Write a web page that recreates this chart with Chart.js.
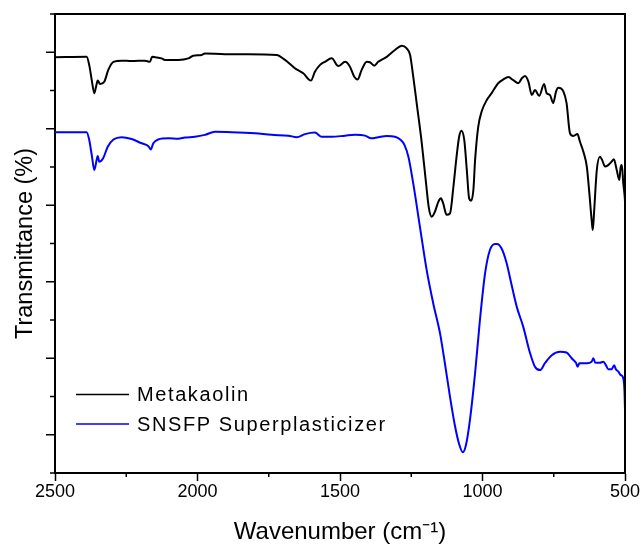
<!DOCTYPE html>
<html><head><meta charset="utf-8">
<script src="https://cdn.jsdelivr.net/npm/chart.js@4"></script>
<style>html,body{margin:0;padding:0;background:#fff}#wrap{width:642px;height:547px}</style>
</head><body><div id="wrap"><canvas id="c" width="642" height="547"></canvas></div>
<script>
// ---- data ----
const metakaolinWavenumber = [2500,2389,2380,2371,2362,2356,2350,2342,2327,2313,2295,2266,2231,2184,2167,2159,2149,2126,2114,2067,2032,2015,1985,1974,1904,1822,1722,1693,1658,1629,1602,1588,1570,1553,1529,1506,1482,1465,1450,1438,1424,1406,1395,1380,1366,1336,1307,1283,1266,1254,1243,1231,1213,1198,1188,1178,1167,1155,1146,1138,1126,1114,1102,1091,1082,1074,1064,1055,1047,1040,1032,1026,1015,1003,985,968,945,927,909,892,874,862,851,839,827,816,801,784,775,763,752,742,734,716,705,693,681,667,658,646,634,625,617,613,608,599,588,580,570,559,547,539,529,520,515,511,506,501,500];
const metakaolinTransmittance = [108.7,108.8,106.7,102.7,99.3,101.0,102.6,101.7,102.3,105.4,107.5,107.8,107.7,107.8,107.5,108.8,108.7,108.4,108.0,108.0,108.4,109.1,109.3,109.7,109.5,109.5,109.3,108.0,105.8,104.5,102.6,104.9,106.7,107.5,108.4,106.4,107.5,106.2,103.6,102.9,105.4,107.5,107.4,106.5,107.5,108.8,110.6,111.7,111.0,109.3,103.6,96.7,86.2,75.7,69.2,67.0,68.3,70.9,71.8,70.5,67.5,67.9,74.9,82.7,87.9,89.5,87.1,79.2,71.8,71.2,74.0,81.8,90.5,94.5,97.5,99.3,101.9,102.9,103.5,102.7,101.9,103.2,103.8,102.3,98.8,100.1,98.6,101.7,99.3,98.8,96.7,99.7,100.7,99.7,96.7,88.8,88.1,88.6,86.6,84.0,80.1,73.1,66.1,63.5,68.8,79.2,82.7,81.8,80.1,80.5,81.4,82.0,79.2,76.6,80.1,80.5,75.7,72.2,71.0];
const snsfpWavenumber = [2500,2389,2380,2371,2362,2354,2350,2345,2331,2315,2295,2266,2231,2196,2173,2164,2155,2138,2102,2067,2044,2009,1974,1939,1880,1798,1740,1681,1652,1623,1588,1564,1529,1482,1447,1412,1391,1366,1336,1307,1289,1274,1260,1243,1219,1196,1173,1149,1132,1114,1096,1081,1069,1058,1044,1026,1009,991,974,956,949,933,915,898,880,857,833,816,798,781,757,728,705,687,672,666,660,634,617,611,605,588,576,567,559,547,538,532,523,515,508,502,500];
const snsfpTransmittance = [89.1,89.1,87.1,83.1,79.2,81.8,82.9,81.4,82.3,85.3,87.2,87.8,87.3,86.2,85.5,84.6,86.2,87.2,87.5,87.4,87.7,87.9,88.4,89.2,89.1,88.8,88.4,88.2,87.8,88.6,89.0,87.9,87.9,88.2,88.4,88.2,87.5,87.8,88.1,87.9,87.2,85.8,82.7,75.7,64.1,53.1,44.4,36.5,28.7,19.9,12.1,7.3,5.4,7.3,13.9,26.1,40.0,52.2,58.3,59.9,59.9,58.7,54.8,49.2,43.5,38.2,31.3,27.8,26.9,28.7,30.8,31.7,31.5,30.0,28.8,27.8,28.7,28.7,29.1,30.0,28.9,28.8,29.1,28.2,27.1,27.1,28.2,27.1,26.5,25.6,25.2,21.7,16.5];
const seriesLabels = ['Metakaolin', 'SNSFP Superplasticizer'];
const xMajorTicks = [2500, 2000, 1500, 1000, 500];
const xMinorTicks = [2250, 1750, 1250, 750];
const yMajorTicks = [10, 30, 50, 70, 90, 110];
const yMinorTicks = [0, 20, 40, 60, 80, 100, 120];
const xTitle = 'Wavenumber (cm\u207B\u00B9)';
const yTitle = 'Transmittance (%)';

const FONT = '"Liberation Sans", Arial, sans-serif';
const BLUE = 'rgb(0,0,255)';

function toPoints(xs, ys) { return xs.map((x, i) => ({x: x, y: ys[i]})); }

const framePlugin = {
  id: 'frame',
  afterDraw(chart) {
    const ctx = chart.ctx, a = chart.chartArea;
    const xs = chart.scales.x, ys = chart.scales.y;
    ctx.save();
    ctx.strokeStyle = '#000';
    ctx.lineWidth = 2;
    ctx.beginPath();
    ctx.moveTo(a.left, a.top); ctx.lineTo(a.right, a.top); ctx.lineTo(a.right, a.bottom);
    ctx.stroke();
    ctx.lineWidth = 1.5;
    ctx.beginPath();
    xMinorTicks.forEach(v => { const p = xs.getPixelForValue(v); ctx.moveTo(p, a.bottom); ctx.lineTo(p, a.bottom + 4); });
    yMajorTicks.forEach(v => { const p = ys.getPixelForValue(v); ctx.moveTo(a.left, p); ctx.lineTo(a.left - 9, p); });
    yMinorTicks.forEach(v => { const p = ys.getPixelForValue(v); ctx.moveTo(a.left, p); ctx.lineTo(a.left - 5, p); });
    ctx.stroke();
    const items = [{c: '#000', t: seriesLabels[0], y: 394.5}, {c: BLUE, t: seriesLabels[1], y: 424}];
    ctx.font = '20px ' + FONT;
    ctx.textBaseline = 'middle';
    ctx.textAlign = 'left';
    try { ctx.letterSpacing = '1.6px'; } catch (e) {}
    items.forEach(it => {
      ctx.strokeStyle = it.c; ctx.lineWidth = 1.4;
      ctx.beginPath(); ctx.moveTo(a.left + 21, it.y); ctx.lineTo(a.left + 74, it.y); ctx.stroke();
      ctx.fillStyle = '#000';
      ctx.fillText(it.t, a.left + 82, it.y + 1);
    });
    ctx.restore();
  }
};

new Chart(document.getElementById('c'), {
  type: 'line',
  data: {
    datasets: [
      {label: seriesLabels[0], data: toPoints(metakaolinWavenumber, metakaolinTransmittance), borderColor: '#000', borderWidth: 2, pointRadius: 0, cubicInterpolationMode: 'monotone', fill: false},
      {label: seriesLabels[1], data: toPoints(snsfpWavenumber, snsfpTransmittance), borderColor: BLUE, borderWidth: 2, pointRadius: 0, cubicInterpolationMode: 'monotone', fill: false}
    ]
  },
  options: {
    responsive: false,
    animation: false,
    devicePixelRatio: 1,
    layout: {padding: {left: 0, top: 14, right: 17, bottom: 0}},
    plugins: {legend: {display: false}, tooltip: {enabled: false}},
    scales: {
      x: {
        type: 'linear', reverse: true, min: 500, max: 2500,
        afterBuildTicks: s => { s.ticks = xMajorTicks.map(v => ({value: v})); },
        afterFit: s => { s.height = 74; },
        grid: {drawOnChartArea: false, drawTicks: true, tickLength: 8, tickColor: '#000', tickWidth: 1.5},
        border: {display: true, color: '#000', width: 2},
        ticks: {color: '#000', font: {family: FONT, size: 18}, padding: 0, maxRotation: 0, autoSkip: false, callback: v => String(v)},
        title: {display: true, text: xTitle, color: '#000', font: {family: FONT, size: 24}, padding: {top: 0, bottom: 0}}
      },
      y: {
        type: 'linear', min: 0, max: 120,
        afterFit: s => { s.width = 55; },
        grid: {display: false},
        border: {display: true, color: '#000', width: 2},
        ticks: {display: false, stepSize: 10},
        title: {display: true, text: yTitle, color: '#000', font: {family: FONT, size: 23.5}, padding: {top: 11, bottom: 0}}
      }
    }
  },
  plugins: [framePlugin]
});
</script>
</body></html>
